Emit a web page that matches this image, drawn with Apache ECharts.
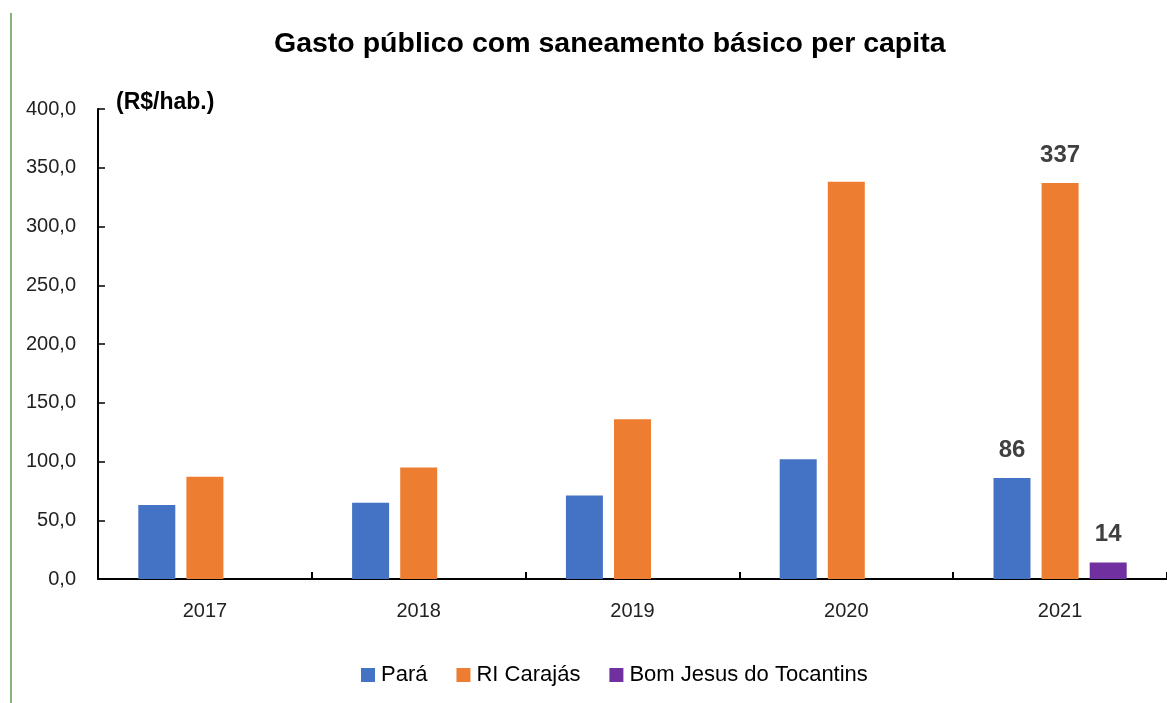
<!DOCTYPE html>
<html>
<head>
<meta charset="utf-8">
<script src="https://cdn.jsdelivr.net/npm/echarts@6/dist/echarts.min.js"></script>
<style>
html,body{margin:0;padding:0;background:#fff;}
#chart{width:1167px;height:703px;}
</style>
</head>
<body>
<div id="chart"></div>
<script>
const years = ['2017', '2018', '2019', '2020', '2021'];
const para = [63, 65, 71, 102, 86];
const riCarajas = [87, 95, 136, 338, 337];
const bomJesus = [null, null, null, null, 14];
const yTicks = [0, 50, 100, 150, 200, 250, 300, 350, 400];
const labeledIndex = 4;

const FONT = "'Liberation Sans Narrow', 'Liberation Sans', Arial, sans-serif";

const chart = echarts.init(document.getElementById('chart'));

function labelFor(idx) {
  return {
    show: true,
    position: 'top',
    distance: 16,
    fontFamily: FONT,
    fontWeight: 'bold',
    fontSize: 24,
    color: '#404040',
    formatter: p => (p.dataIndex === idx && p.value != null) ? String(Math.round(p.value)) : ''
  };
}

chart.setOption({
  backgroundColor: '#ffffff',
  animation: false,
  title: [
    {
      text: 'Gasto público com saneamento básico per capita',
      left: 269,
      top: 25,
      textStyle: { fontFamily: FONT, fontWeight: 'bold', fontSize: 28.5, color: '#000' }
    },
    {
      text: '(R$/hab.)',
      left: 111,
      top: 86,
      textStyle: { fontFamily: FONT, fontWeight: 'bold', fontSize: 23, color: '#000' }
    }
  ],
  graphic: [
    {
      type: 'line',
      shape: { x1: 11, y1: 13, x2: 11, y2: 703 },
      style: { stroke: '#5E9E4A', lineWidth: 1.5 }
    }
  ],
  legend: {
    top: 664,
    left: 361,
    padding: 0,
    itemWidth: 14,
    itemHeight: 14,
    itemGap: 29,
    icon: 'rect',
    textStyle: { fontFamily: FONT, fontSize: 22, color: '#000', padding: [0, 0, 0, 1] },
    data: ['Pará', 'RI Carajás', 'Bom Jesus do Tocantins']
  },
  grid: { left: 98, top: 109, width: 1080, height: 470, containLabel: false },
  xAxis: {
    type: 'category',
    data: years,
    axisLine: { lineStyle: { color: '#000', width: 2 } },
    axisTick: { show: true, inside: true, length: 7, alignWithLabel: false, lineStyle: { color: '#000', width: 2 } },
    axisLabel: { fontFamily: FONT, fontSize: 20, color: '#222', margin: 22 }
  },
  yAxis: {
    type: 'value',
    min: 0,
    max: 400,
    interval: 50,
    axisLine: { show: true, lineStyle: { color: '#000', width: 2 } },
    axisTick: { show: true, inside: true, length: 7, lineStyle: { color: '#000', width: 1.5 } },
    splitLine: { show: false },
    axisLabel: {
      fontFamily: FONT, fontSize: 20, color: '#222', margin: 22,
      formatter: v => yTicks.includes(v) ? v.toFixed(1).replace('.', ',') : ''
    }
  },
  series: [
    {
      name: 'Pará', type: 'bar', data: para, barWidth: 37, barGap: '30%',
      itemStyle: { color: '#4472C4' }, label: labelFor(labeledIndex)
    },
    {
      name: 'RI Carajás', type: 'bar', data: riCarajas, barWidth: 37, barGap: '30%',
      itemStyle: { color: '#ED7D31' }, label: labelFor(labeledIndex)
    },
    {
      name: 'Bom Jesus do Tocantins', type: 'bar', data: bomJesus, barWidth: 37, barGap: '30%',
      itemStyle: { color: '#7030A0' }, label: labelFor(labeledIndex)
    }
  ]
});
</script>
</body>
</html>
